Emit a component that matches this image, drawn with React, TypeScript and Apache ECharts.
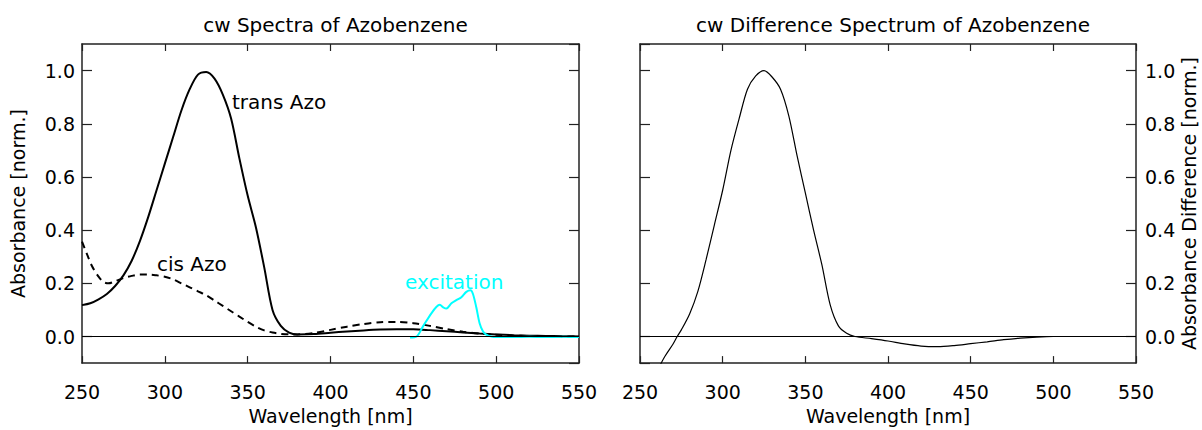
import React, { useEffect, useRef } from "react";
import * as echarts from "echarts";

// ---- Data ----
const transWl = [250, 255, 260, 265, 270, 275, 280, 285, 290, 295, 300, 305, 310, 315, 320, 325, 330, 335, 340, 345, 350, 355, 360, 365, 370, 375, 380, 390, 400, 410, 420, 430, 440, 450, 460, 470, 480, 490, 500, 510, 520, 530, 540, 550];
const transAbs = [0.118, 0.125, 0.14, 0.16, 0.19, 0.23, 0.285, 0.36, 0.45, 0.55, 0.65, 0.75, 0.85, 0.93, 0.985, 0.995, 0.97, 0.91, 0.82, 0.67, 0.53, 0.41, 0.26, 0.1, 0.04, 0.015, 0.008, 0.009, 0.014, 0.019, 0.023, 0.026, 0.027, 0.027, 0.024, 0.02, 0.015, 0.011, 0.008, 0.005, 0.003, 0.002, 0.001, 0.0];

const cisWl = [250, 253, 256, 260, 263, 266, 270, 275, 280, 285, 290, 295, 300, 305, 310, 315, 320, 325, 330, 335, 340, 345, 350, 355, 360, 365, 370, 375, 380, 390, 400, 410, 420, 430, 440, 450, 460, 470, 480, 490, 500, 510, 520, 530, 550];
const cisAbs = [0.357, 0.31, 0.265, 0.225, 0.205, 0.2, 0.208, 0.22, 0.228, 0.233, 0.233, 0.23, 0.225, 0.215, 0.2, 0.185, 0.17, 0.155, 0.135, 0.115, 0.095, 0.075, 0.055, 0.037, 0.023, 0.015, 0.01, 0.008, 0.008, 0.013, 0.025, 0.037, 0.047, 0.054, 0.055, 0.05, 0.04, 0.028, 0.018, 0.011, 0.007, 0.004, 0.002, 0.001, 0.0];

const excWl = [448, 452, 456, 461, 464, 466, 468, 470, 473, 476, 479, 482, 484.5, 486, 488, 490, 492, 494, 497, 500, 510, 520, 530, 540, 550];
const excAbs = [-0.004, 0.0, 0.04, 0.088, 0.112, 0.119, 0.11, 0.105, 0.125, 0.137, 0.148, 0.168, 0.174, 0.16, 0.11, 0.05, 0.02, 0.007, 0.0, -0.002, -0.002, -0.001, -0.002, -0.001, -0.002];

const diffWl = [262, 265, 270, 272.5, 275, 280, 285, 290, 295, 300, 305, 310, 315, 320, 325, 330, 335, 340, 345, 350, 355, 360, 365, 370, 375, 380, 390, 400, 410, 420, 430, 440, 450, 460, 470, 480, 490, 500, 510, 550];
const diffAbs = [-0.11, -0.075, -0.028, 0.0, 0.025, 0.085, 0.17, 0.29, 0.42, 0.55, 0.7, 0.82, 0.93, 0.98, 1.0, 0.975, 0.93, 0.83, 0.68, 0.54, 0.4, 0.27, 0.12, 0.04, 0.012, 0.0, -0.008, -0.017, -0.028, -0.036, -0.038, -0.034, -0.027, -0.02, -0.012, -0.006, -0.002, 0.0, 0.0, 0.0];

const titles = ["cw Spectra of Azobenzene", "cw Difference Spectrum of Azobenzene"];
const xName = "Wavelength [nm]";
const yNames = ["Absorbance [norm.]", "Absorbance Difference [norm.]"];
const curveLabels = ["trans Azo", "cis Azo", "excitation"];

const FONT = "DejaVu Sans";
const FS = 19;

const pairs = (xs: number[], ys: number[]) => xs.map((x, i) => [x, ys[i]]);

export default function App() {
  const ref = useRef<HTMLDivElement>(null);
  useEffect(() => {
    document.body.style.margin = "0";
    const chart = echarts.init(ref.current!, undefined, { renderer: "svg" });
    const axisLine = { show: true, onZero: false, lineStyle: { color: "#222", width: 1.5 } };
    const tickStyle = { color: "#222", width: 1.2 };
    const grids = [
      { left: 82, top: 44, width: 497, height: 327 },
      { left: 640, top: 44, width: 496, height: 327 },
    ];
    const xAxis: any[] = [];
    const yAxis: any[] = [];
    [0, 1].forEach((g) => {
      xAxis.push({
        type: "value", gridIndex: g, min: 250, max: 550, interval: 50, position: "bottom",
        axisLine, splitLine: { show: false },
        axisTick: { inside: true, length: 7, lineStyle: tickStyle },
        axisLabel: { margin: 19, fontSize: FS, fontFamily: FONT, color: "#000" },
        name: xName, nameLocation: "middle", nameGap: 39,
        nameTextStyle: { fontSize: FS, fontFamily: FONT, color: "#000" },
      });
      xAxis.push({
        type: "value", gridIndex: g, min: 250, max: 550, interval: 50, position: "top",
        axisLine, splitLine: { show: false },
        axisTick: { inside: true, length: 7, lineStyle: tickStyle },
        axisLabel: { show: false },
      });
      const mainSide = g === 0 ? "left" : "right";
      const otherSide = g === 0 ? "right" : "left";
      yAxis.push({
        type: "value", gridIndex: g, min: -0.1, max: 1.1, splitNumber: 6, position: mainSide,
        axisLine, splitLine: { show: false },
        axisTick: { inside: true, length: 10, lineStyle: tickStyle },
        axisLabel: {
          margin: g === 0 ? 7 : 9, fontSize: FS, fontFamily: FONT, color: "#000",
          showMinLabel: false, showMaxLabel: false,
          formatter: (v: number) => v.toFixed(1),
        },
        name: yNames[g], nameLocation: "middle", nameRotate: 90, nameGap: g === 0 ? 55 : 42,
        nameTextStyle: { fontSize: FS, fontFamily: FONT, color: "#000" },
      });
      yAxis.push({
        type: "value", gridIndex: g, min: -0.1, max: 1.1, splitNumber: 6, position: otherSide,
        axisLine, splitLine: { show: false },
        axisTick: { inside: true, length: 10, lineStyle: tickStyle },
        axisLabel: { show: false },
      });
    });
    const zeroLine = {
      silent: true, symbol: "none", label: { show: false },
      lineStyle: { color: "#000", width: 1, type: "solid" },
      data: [{ yAxis: 0 }],
    };
    const option: any = {
      animation: false,
      backgroundColor: "#fff",
      title: [
        { text: titles[0], left: 330.5, top: 10, textAlign: "center", textStyle: { fontSize: 20, fontWeight: "normal", fontFamily: FONT, color: "#000" } },
        { text: titles[1], left: 888, top: 10, textAlign: "center", textStyle: { fontSize: 20, fontWeight: "normal", fontFamily: FONT, color: "#000" } },
      ],
      grid: grids,
      xAxis,
      yAxis,
      series: [
        {
          name: "cis Azo", type: "line", xAxisIndex: 0, yAxisIndex: 0, data: pairs(cisWl, cisAbs),
          showSymbol: false, smooth: 0.3, lineStyle: { color: "#000", width: 2, type: [7, 5] },
        },
        {
          name: "trans Azo", type: "line", xAxisIndex: 0, yAxisIndex: 0, data: pairs(transWl, transAbs),
          showSymbol: false, smooth: 0.3, lineStyle: { color: "#000", width: 2 },
          markLine: zeroLine,
        },
        {
          name: "excitation", type: "line", xAxisIndex: 0, yAxisIndex: 0, data: pairs(excWl, excAbs),
          showSymbol: false, smooth: 0.3, lineStyle: { color: "#00ffff", width: 2 },
        },
        {
          name: "difference", type: "line", xAxisIndex: 2, yAxisIndex: 2, data: pairs(diffWl, diffAbs),
          showSymbol: false, smooth: 0.3, lineStyle: { color: "#000", width: 1.2 },
          markLine: zeroLine,
        },
      ],
      graphic: [
        { type: "text", left: 232, top: 92, style: { text: curveLabels[0], fontSize: 20, fontFamily: FONT, fill: "#000" } },
        { type: "text", left: 157, top: 254, style: { text: curveLabels[1], fontSize: 20, fontFamily: FONT, fill: "#000" } },
        { type: "text", left: 405, top: 272, style: { text: curveLabels[2], fontSize: 20, fontFamily: FONT, fill: "#00ffff" } },
      ],
    };
    chart.setOption(option);
    return () => chart.dispose();
  }, []);
  return <div ref={ref} style={{ width: 1202, height: 430 }} />;
}
